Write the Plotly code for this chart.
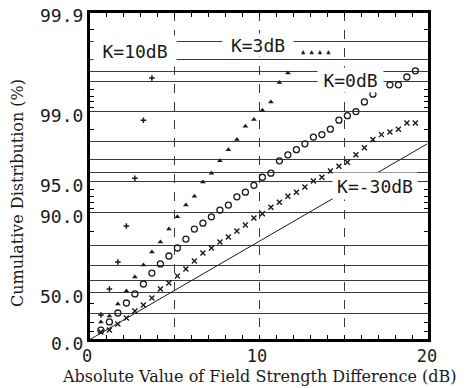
import numpy as np
import plotly.graph_objects as go

# ---------------- data ----------------
# x: absolute value of field-strength difference (dB); y: cumulative distribution (%)
k10_x = [0.7, 1.2, 1.7, 2.2, 2.7, 3.2, 3.7]
k10_y = [28.2, 53.0, 71.8, 86.7, 95.4, 98.78, 99.54]

k3_x = [0.7, 1.2, 1.7, 2.2, 2.7, 3.2, 3.7, 4.2, 4.7, 5.2, 5.7, 6.2, 6.7, 7.2, 7.7,
        8.2, 8.7, 9.2, 9.7, 10.2, 10.7, 11.2, 11.7]
k3_y = [20.6, 27.1, 39.4, 51.4, 62.3, 70.1, 77.0, 81.3, 85.8, 89.1, 91.6, 93.1, 95.0,
        95.9, 96.9, 97.6, 98.1, 98.6, 98.8, 99.03, 99.2, 99.49, 99.59]

k0_x = [0.7, 1.2, 1.7, 2.2, 2.7, 3.2, 3.7, 4.2, 4.7, 5.2, 5.7, 6.2, 6.7, 7.2, 7.7,
        8.2, 8.7, 9.2, 9.7, 10.2, 10.7, 11.2, 11.7, 12.2, 12.7, 13.2, 13.7, 14.2,
        14.7, 15.2, 15.7, 16.2, 16.7, 17.7, 18.2, 18.7, 19.2]
k0_y = [11.5, 20.6, 30.3, 40.4, 48.8, 57.1, 65.0, 70.7, 75.0, 78.8, 82.4, 85.8, 87.5,
        89.1, 90.6, 91.6, 93.0, 93.7, 94.6, 95.5, 95.9, 96.9, 97.3, 97.6, 97.9, 98.2,
        98.3, 98.5, 98.78, 98.9, 99.0, 99.2, 99.33, 99.46, 99.46, 99.55, 99.61]

km30_x = [0.7, 1.2, 1.7, 2.2, 2.7, 3.2, 3.7, 4.2, 4.7, 5.2, 5.7, 6.2, 6.7, 7.2, 7.7,
          8.2, 8.7, 9.2, 9.7, 10.2, 10.7, 11.2, 11.7, 12.2, 12.7, 13.2, 13.7, 14.2,
          14.7, 15.2, 15.7, 16.2, 16.7, 17.2, 17.7, 18.2, 18.7, 19.2]
km30_y = [9.2, 11.5, 18.3, 24.9, 32.4, 38.4, 45.1, 53.0, 57.9, 63.0, 67.6, 72.4, 76.5,
          78.8, 81.3, 83.2, 85.2, 87.0, 88.8, 89.8, 91.2, 92.1, 93.1, 93.7, 94.4, 95.1,
          95.5, 96.1, 96.5, 96.8, 97.3, 97.7, 98.1, 98.3, 98.4, 98.5, 98.7, 98.7]

theory_x = [0.0, 19.9]
theory_y = [0.0, 97.9]

# probability-paper levels
grid_pct = [30, 50, 60, 70, 80, 90, 95, 96, 97, 98, 99, 99.5, 99.6, 99.7, 99.8]
label_pct = [0.0, 50.0, 90.0, 95.0, 99.0, 99.9]
label_txt = ["0.0", "50.0", "90.0", "95.0", "99.0", "99.9"]
minor_pct = [10, 20, 40, 85, 91, 92, 93, 94, 98.5, 99.1, 99.2, 99.3, 99.4, 99.85]

x_ticks = [0, 5, 10, 15, 20]
x_ticktext = ["0", "", "10", "", "20"]


def to_u(p):
    """cumulative % -> linear paper coordinate (dB-equivalent)."""
    return 20.0 / np.log(10.0) * np.arctanh(np.asarray(p, dtype=float) / 100.0)


# ---------------- figure ----------------
INK = "#1a1a1a"
fig = go.Figure()

fig.add_trace(go.Scatter(x=theory_x, y=to_u(theory_y), mode="lines",
                         line=dict(color=INK, width=1), showlegend=False))
fig.add_trace(go.Scatter(x=k10_x, y=to_u(k10_y), mode="markers", name="K=10dB",
                         marker=dict(symbol="cross-thin-open", size=4, color=INK,
                                     line=dict(color=INK, width=1.5)), showlegend=False))
fig.add_trace(go.Scatter(x=k3_x, y=to_u(k3_y), mode="markers", name="K=3dB",
                         marker=dict(symbol="triangle-up", size=5, color=INK),
                         showlegend=False))
fig.add_trace(go.Scatter(x=k0_x, y=to_u(k0_y), mode="markers", name="K=0dB",
                         marker=dict(symbol="circle-open", size=6, color=INK,
                                     line=dict(color=INK, width=1.3)), showlegend=False))
fig.add_trace(go.Scatter(x=km30_x, y=to_u(km30_y), mode="markers", name="K=-30dB",
                         marker=dict(symbol="x-thin-open", size=5, color=INK,
                                     line=dict(color=INK, width=1.4)), showlegend=False))

# y ticks: every grid level gets a gridline; only some are labelled
yt = sorted(set(grid_pct) | set(label_pct))
ytext = [label_txt[label_pct.index(v)] if v in label_pct else "" for v in yt]

MONO = "DejaVu Sans Mono"
SERIF = "DejaVu Serif"

fig.update_layout(
    template="none",
    width=470, height=388, autosize=False,
    margin=dict(l=89, r=41, t=12, b=48, pad=0),
    paper_bgcolor="white", plot_bgcolor="white",
    showlegend=False,
    xaxis=dict(
        automargin=False,
        range=[0, 20], tickmode="array", tickvals=x_ticks, ticktext=x_ticktext,
        showgrid=True, gridcolor="#3a3a3a", gridwidth=1, griddash="dash",
        showline=True, linecolor="black", linewidth=2, mirror="ticks",
        ticks="inside", ticklen=1, tickcolor="black", zeroline=False,
        tickfont=dict(family=MONO, size=17, color=INK),
        ticklabelshift=-2,
        minor=dict(tickmode="linear", tick0=0, dtick=1, ticks="inside", ticklen=5,
                   tickcolor="black", tickwidth=1, showgrid=False),
    ),
    yaxis=dict(
        automargin=False,
        range=[0, float(to_u(99.9))], tickmode="array", tickvals=to_u(yt).tolist(),
        ticktext=ytext,
        showgrid=True, gridcolor="#3a3a3a", gridwidth=1,
        showline=True, linecolor="black", linewidth=2, mirror="ticks",
        ticks="inside", ticklen=1, tickcolor="black", zeroline=False,
        tickfont=dict(family=MONO, size=18, color=INK),
        ticklabelshift=4,
        minor=dict(tickmode="array", tickvals=to_u(minor_pct).tolist(), ticks="inside",
                   ticklen=5, tickcolor="black", tickwidth=1, showgrid=False),
    ),
)

# plot frame
fig.add_shape(type="rect", xref="paper", yref="paper", x0=0, x1=1, y0=0, y1=1,
              line=dict(color="black", width=2), layer="above")

# axis titles
fig.add_annotation(text="Cumulative Distribution (%)", xref="paper", yref="paper",
                   x=-0.212, y=0.448, textangle=-90, xanchor="center", yanchor="middle",
                   showarrow=False, font=dict(family=SERIF, size=16, color=INK))
fig.add_annotation(text="Absolute Value of Field Strength Difference (dB)",
                   xref="paper", yref="paper", x=0.5, y=-0.112,
                   xanchor="center", yanchor="middle", showarrow=False,
                   font=dict(family=SERIF, size=16, color=INK))

# curve labels with white backgrounds interrupting the grid
LBL = dict(family=MONO, size=18, color=INK)
labels = [
    ("K=10dB", 0.1353, 0.881, 82, 30),
    ("K=3dB", 0.4971, 0.899, 70, 22),
    ("K=0dB", 0.7691, 0.793, 65, 24),
    ("K=-30dB", 0.8412, 0.470, 84, 26),
]
for txt, xp, yp, w, h in labels:
    fig.add_annotation(text=txt, xref="paper", yref="paper", x=xp, y=yp,
                       xanchor="center", yanchor="middle",
                       showarrow=False, font=LBL, bgcolor="white",
                       width=w, height=h, borderpad=0, align="center", valign="middle")

# legend key of the K=3dB triangles
fig.add_annotation(text="▲ ▲ ▲ ▲", xref="paper", yref="paper", x=0.668, y=0.878,
                   xanchor="center", yanchor="middle",
                   showarrow=False, font=dict(family=MONO, size=7, color=INK))

fig.write_html("out.html", config={"displayModeBar": False},
               post_script="document.body.style.margin='0px';"
                           "document.body.style.overflow='hidden';")
